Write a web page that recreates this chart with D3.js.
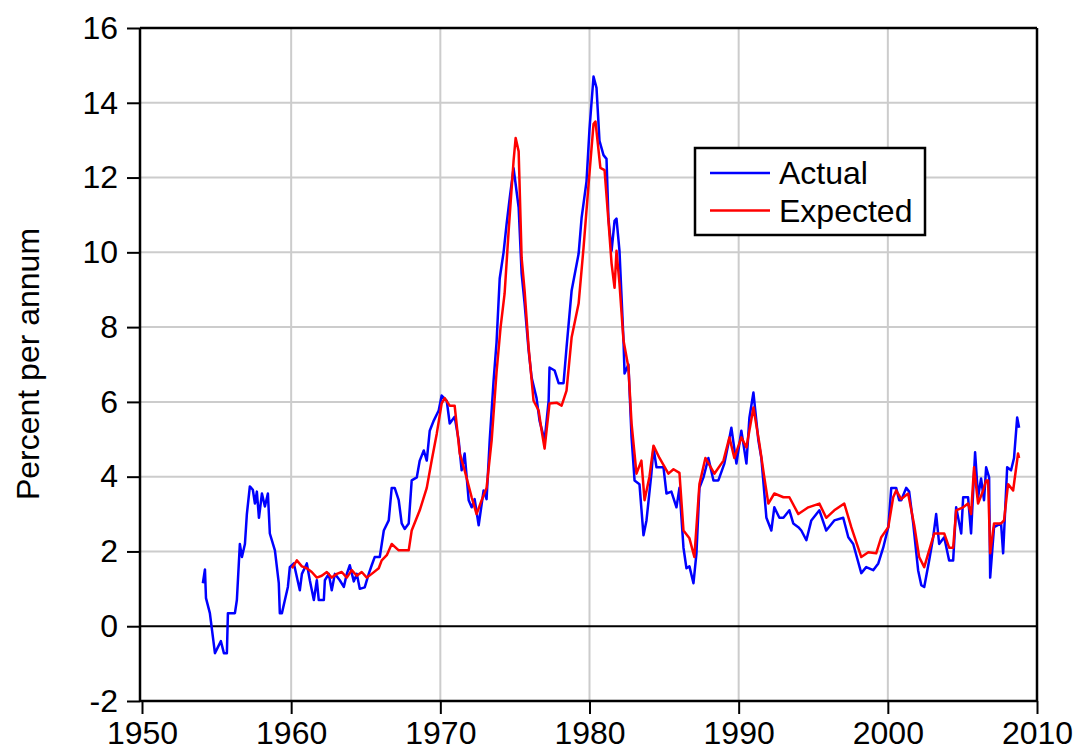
<!DOCTYPE html>
<html>
<head>
<meta charset="utf-8">
<script src="https://cdn.jsdelivr.net/npm/d3@7"></script>
<style>
  body { margin: 0; background: #fff; }
  svg { display: block; }
  text { font-family: "Liberation Sans", Arial, sans-serif; fill: #000; }
</style>
</head>
<body>
<svg></svg>
<script>
// actual vs expected inflation, percent per annum

var actualYears = [1954.08,1954.22,1954.29,1954.55,1954.89,1955.29,1955.49,1955.69,1955.76,1956.23,
  1956.36,1956.56,1956.70,1956.90,1957.03,1957.23,1957.43,1957.57,1957.70,1957.84,
  1958.04,1958.24,1958.44,1958.57,1958.91,1959.17,1959.24,1959.38,1959.58,1959.78,
  1959.91,1960.18,1960.58,1960.72,1961.05,1961.25,1961.52,1961.72,1961.85,1962.19,
  1962.26,1962.52,1962.72,1962.93,1963.26,1963.53,1963.73,1963.93,1964.20,1964.40,
  1964.60,1964.93,1965.20,1965.40,1965.60,1965.94,1966.21,1966.54,1966.74,1966.94,
  1967.21,1967.41,1967.61,1967.88,1968.08,1968.42,1968.62,1968.89,1969.09,1969.29,
  1969.56,1969.89,1970.09,1970.43,1970.63,1970.96,1971.23,1971.43,1971.63,1971.90,
  1972.10,1972.30,1972.57,1972.90,1973.10,1973.31,1973.57,1973.77,1973.98,1974.24,
  1974.44,1974.65,1974.91,1975.25,1975.45,1975.65,1975.92,1976.12,1976.45,1976.65,
  1976.99,1977.26,1977.32,1977.66,1977.93,1978.26,1978.46,1978.80,1979.27,1979.47,
  1979.80,1980.00,1980.27,1980.47,1980.67,1980.94,1981.14,1981.27,1981.48,1981.68,
  1981.81,1982.01,1982.28,1982.35,1982.61,1982.82,1983.02,1983.35,1983.62,1983.82,
  1984.15,1984.29,1984.49,1984.96,1985.16,1985.49,1985.83,1986.03,1986.30,1986.50,
  1986.70,1986.97,1987.17,1987.37,1987.64,1987.97,1988.31,1988.64,1989.04,1989.31,
  1989.51,1989.85,1990.18,1990.52,1990.72,1990.99,1991.32,1991.52,1991.86,1992.19,
  1992.39,1992.73,1993.00,1993.40,1993.66,1994.00,1994.20,1994.54,1994.87,1995.41,
  1995.87,1996.41,1997.01,1997.35,1997.68,1998.22,1998.55,1999.02,1999.36,1999.69,
  2000.03,2000.23,2000.56,2000.76,2000.90,2001.23,2001.43,2001.70,2002.03,2002.24,
  2002.44,2002.77,2003.04,2003.24,2003.44,2003.78,2004.11,2004.38,2004.58,2004.92,
  2005.05,2005.38,2005.58,2005.85,2006.05,2006.25,2006.45,2006.59,2006.79,2006.86,
  2007.12,2007.59,2007.73,2008.00,2008.26,2008.46,2008.67,2008.80];

var actualValues = [1.15,1.52,0.75,0.35,-0.72,-0.4,-0.72,-0.72,0.35,0.35,
  0.7,2.2,1.85,2.2,3.0,3.74,3.65,3.28,3.6,2.9,
  3.55,3.2,3.55,2.48,2.03,1.15,0.35,0.35,0.7,1.05,
  1.58,1.68,0.96,1.4,1.68,1.23,0.7,1.23,0.7,0.7,
  1.23,1.4,0.96,1.4,1.23,1.05,1.4,1.63,1.2,1.4,
  1.0,1.04,1.4,1.63,1.85,1.85,2.56,2.83,3.7,3.7,
  3.37,2.75,2.6,2.75,3.9,3.98,4.43,4.7,4.43,5.23,
  5.5,5.77,6.17,6.03,5.42,5.6,4.97,4.17,4.62,3.37,
  3.18,3.4,2.7,3.63,3.4,4.97,6.57,7.6,9.3,10.0,
  10.75,11.45,12.25,11.2,9.43,8.63,7.37,6.65,6.1,5.5,
  4.97,6.03,6.92,6.84,6.5,6.5,7.45,8.97,9.96,10.92,
  11.9,13.3,14.7,14.4,12.98,12.6,12.5,10.9,10.04,10.84,
  10.9,10.04,7.64,6.76,7.0,5.05,3.9,3.8,2.43,2.83,
  4.08,4.78,4.25,4.25,3.55,3.6,3.18,3.7,2.1,1.55,
  1.6,1.15,1.95,3.7,3.98,4.5,3.9,3.9,4.35,4.88,
  5.31,4.35,5.23,4.35,5.58,6.25,4.97,4.5,2.9,2.56,
  3.18,2.9,2.9,3.1,2.75,2.65,2.56,2.3,2.83,3.1,
  2.56,2.83,2.9,2.38,2.2,1.42,1.58,1.5,1.68,2.1,
  2.65,3.7,3.7,3.37,3.37,3.7,3.6,2.75,1.5,1.1,
  1.05,1.76,2.38,3.0,2.2,2.38,1.76,1.76,3.18,2.48,
  3.45,3.45,2.48,4.65,3.45,3.95,3.37,4.25,3.98,1.3,
  2.65,2.75,1.95,4.25,4.17,4.5,5.58,5.31];

var expectedYears = [1960.05,1960.38,1960.72,1961.05,1961.38,1961.72,1962.05,1962.39,1962.72,1963.06,
  1963.39,1963.73,1964.06,1964.40,1964.73,1965.07,1965.40,1965.87,1966.07,1966.41,
  1966.74,1967.21,1967.88,1968.08,1968.62,1969.09,1969.42,1969.76,1970.09,1970.29,
  1970.63,1970.96,1971.30,1971.63,1972.10,1972.43,1972.77,1973.10,1973.44,1973.77,
  1974.04,1974.31,1974.58,1974.91,1975.05,1975.25,1975.45,1975.65,1975.92,1976.25,
  1976.59,1976.79,1976.99,1977.32,1977.79,1978.13,1978.46,1978.80,1979.27,1979.60,
  1979.94,1980.27,1980.40,1980.73,1981.01,1981.27,1981.48,1981.68,1981.81,1982.01,
  1982.28,1982.61,1982.82,1983.15,1983.48,1983.69,1984.02,1984.29,1984.69,1985.29,
  1985.63,1986.03,1986.30,1986.70,1987.03,1987.37,1987.77,1988.37,1988.98,1989.38,
  1989.71,1990.18,1990.52,1990.99,1991.39,1991.72,1991.99,1992.39,1993.00,1993.40,
  1994.00,1994.67,1995.41,1995.87,1996.41,1997.08,1997.55,1998.22,1998.69,1999.22,
  1999.56,2000.03,2000.36,2000.56,2000.90,2001.36,2001.77,2002.10,2002.44,2002.77,
  2003.11,2003.44,2003.78,2004.11,2004.38,2004.58,2005.05,2005.38,2005.58,2005.78,
  2006.05,2006.39,2006.59,2006.72,2006.86,2007.12,2007.59,2007.79,2008.06,2008.40,
  2008.73,2008.80];

var expectedValues = [1.55,1.76,1.6,1.55,1.45,1.3,1.35,1.45,1.3,1.4,
  1.45,1.3,1.5,1.35,1.45,1.3,1.4,1.55,1.76,1.9,
  2.2,2.03,2.03,2.56,3.1,3.7,4.43,5.15,5.96,6.1,
  5.9,5.9,4.62,4.17,3.45,3.0,3.37,3.7,4.97,6.8,
  8.0,8.9,10.58,12.45,13.06,12.7,9.85,8.97,7.45,6.03,
  5.77,5.23,4.75,5.96,5.98,5.9,6.3,7.72,8.63,10.12,
  11.83,13.43,13.5,12.26,12.2,10.84,9.7,9.05,10.04,9.16,
  7.64,6.92,5.42,4.08,4.43,3.37,4.0,4.83,4.5,4.08,
  4.2,4.1,2.56,2.35,1.85,3.8,4.5,4.08,4.43,5.05,
  4.5,5.05,4.78,5.85,4.88,3.98,3.28,3.55,3.45,3.45,
  3.0,3.18,3.28,2.9,3.1,3.28,2.65,1.85,1.98,1.95,
  2.38,2.65,3.45,3.63,3.4,3.55,2.7,1.85,1.58,2.03,
  2.48,2.48,2.48,2.1,2.1,3.1,3.18,3.28,3.0,4.25,
  3.28,3.63,3.9,3.9,1.95,2.75,2.75,2.83,3.8,3.63,
  4.62,4.5];

var xTicks = [1950, 1960, 1970, 1980, 1990, 2000, 2010];
var yTicks = [-2, 0, 2, 4, 6, 8, 10, 12, 14, 16];
var seriesNames = ["Actual", "Expected"];
var seriesColors = ["#0000ff", "#ff0000"];

var width = 1077;
var height = 748;
var plotLeft = 140, plotRight = 1037, plotTop = 28, plotBottom = 701;

var svg = d3.select("svg")
    .attr("width", width)
    .attr("height", height);

var xScale = d3.scaleLinear()
    .domain([1950, 2010])
    .range([142, plotRight]);

var yScale = d3.scaleLinear()
    .domain([-2, 16])
    .range([plotBottom, plotTop]);

// grid
svg.append("g")
    .selectAll("line")
    .data(xTicks.slice(1, -1))
    .enter()
    .append("line")
      .attr("x1", d => xScale(d)).attr("x2", d => xScale(d))
      .attr("y1", plotTop).attr("y2", plotBottom)
      .attr("stroke", "#cccccc")
      .attr("stroke-width", 2);

svg.append("g")
    .selectAll("line")
    .data(yTicks.filter(d => d !== 0 && d !== -2 && d !== 16))
    .enter()
    .append("line")
      .attr("x1", plotLeft).attr("x2", plotRight)
      .attr("y1", d => yScale(d)).attr("y2", d => yScale(d))
      .attr("stroke", "#cccccc")
      .attr("stroke-width", 2);

// zero line
svg.append("line")
    .attr("x1", plotLeft).attr("x2", plotRight)
    .attr("y1", yScale(0)).attr("y2", yScale(0))
    .attr("stroke", "#000")
    .attr("stroke-width", 2);

// series
var line = d3.line()
    .x(d => xScale(d[0]))
    .y(d => yScale(d[1]));

var series = [
  d3.zip(actualYears, actualValues),
  d3.zip(expectedYears, expectedValues)
];

svg.selectAll("path.series")
    .data(series)
    .enter()
    .append("path")
      .attr("class", "series")
      .attr("d", line)
      .attr("fill", "none")
      .attr("stroke", (d, i) => seriesColors[i])
      .attr("stroke-width", 2.5)
      .attr("stroke-linejoin", "round");

// frame: top and right
svg.append("line")
    .attr("x1", plotLeft).attr("x2", plotRight)
    .attr("y1", plotTop).attr("y2", plotTop)
    .attr("stroke", "#000").attr("stroke-width", 2.5);
svg.append("line")
    .attr("x1", plotRight).attr("x2", plotRight)
    .attr("y1", plotTop).attr("y2", plotBottom)
    .attr("stroke", "#000").attr("stroke-width", 2.5);

// axes
var xAxis = svg.append("g")
    .attr("transform", "translate(0," + plotBottom + ")")
    .call(d3.axisBottom(xScale).tickValues(xTicks).tickFormat(d => String(d)).tickSize(13).tickPadding(7));

var yAxis = svg.append("g")
    .attr("transform", "translate(" + plotLeft + ",0)")
    .call(d3.axisLeft(yScale).tickValues(yTicks).tickFormat(d => String(d)).tickSize(13).tickPadding(9));

[xAxis, yAxis].forEach(g => {
  g.select(".domain").attr("stroke", "#000").attr("stroke-width", 2.5);
  g.selectAll(".tick line").attr("stroke", "#000").attr("stroke-width", 2);
  g.selectAll(".tick text")
    .style("font-family", "'Liberation Sans', Arial, sans-serif")
    .style("font-size", "32px")
    .attr("fill", "#000");
});
xAxis.select(".domain").attr("d", "M" + plotLeft + ",0H" + plotRight);
yAxis.select(".domain").attr("d", "M0," + plotBottom + "V" + plotTop);

// y label
svg.append("text")
    .attr("transform", "rotate(-90)")
    .attr("x", -364)
    .attr("y", 39)
    .style("text-anchor", "middle")
    .style("font-size", "32px")
    .text("Percent per annum");

// legend
var legend = svg.append("g");
legend.append("rect")
    .attr("x", 695).attr("y", 148)
    .attr("width", 230).attr("height", 87)
    .attr("fill", "#fff")
    .attr("stroke", "#000")
    .attr("stroke-width", 2.5);

seriesNames.forEach((name, i) => {
  var y = 173 + i * 37.5;
  legend.append("line")
      .attr("x1", 710).attr("x2", 770)
      .attr("y1", y).attr("y2", y)
      .attr("stroke", seriesColors[i])
      .attr("stroke-width", 2.5);
  legend.append("text")
      .attr("x", 779)
      .attr("y", y + 11)
      .style("font-size", "32px")
      .text(name);
});
</script>
</body>
</html>
